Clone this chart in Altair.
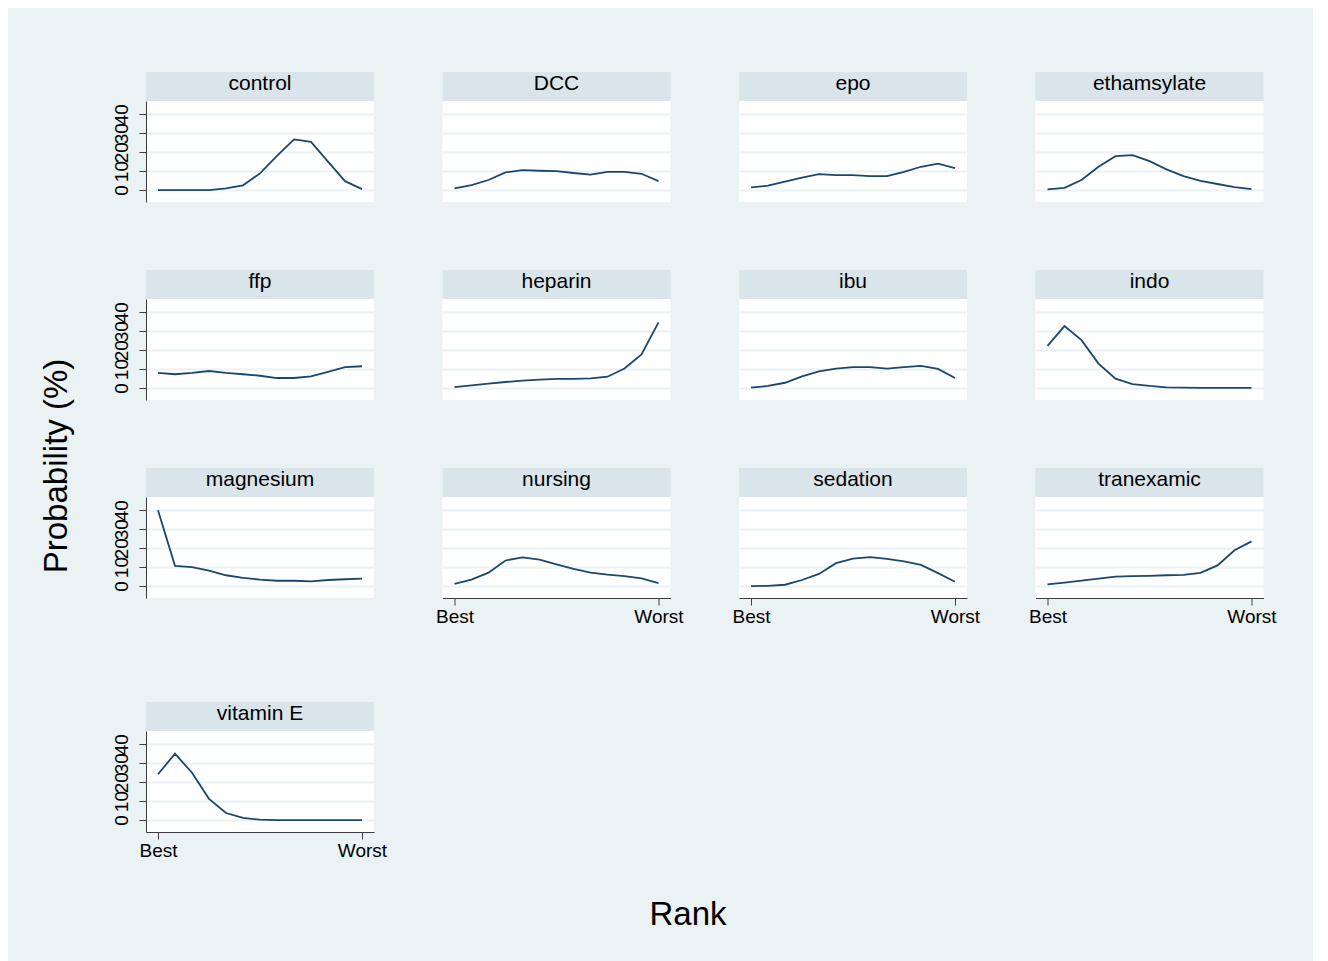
import altair as alt
import pandas as pd

FONT = "Liberation Sans"
BG = "#EAF2F3"
HDR = "#D9E5EB"
LINE = "#1A476F"
AXC = "#3C3C3C"

ranks = list(range(1, 14))
names = ["control", "DCC", "epo", "ethamsylate", "ffp", "heparin", "ibu", "indo",
         "magnesium", "nursing", "sedation", "tranexamic", "vitamin E"]

control = [0, 0, 0, 0, 0.9, 2.5, 8.8, 18.0, 26.7, 25.4, 15.0, 4.7, 0.5]
dcc = [0.9, 2.6, 5.3, 9.3, 10.5, 10.2, 10.0, 9.0, 8.2, 9.6, 9.6, 8.6, 4.7]
epo = [1.4, 2.3, 4.4, 6.5, 8.4, 7.9, 7.9, 7.4, 7.4, 9.6, 12.3, 13.9, 11.6]
ethamsylate = [0.4, 1.2, 5.3, 12.3, 17.9, 18.4, 15.3, 10.9, 7.4, 4.9, 3.2, 1.6, 0.5]
ffp = [8.0, 7.3, 8.0, 9.0, 8.0, 7.3, 6.5, 5.3, 5.3, 6.2, 8.5, 11.0, 11.5]
heparin = [0.5, 1.4, 2.3, 3.2, 3.9, 4.4, 4.8, 4.8, 5.1, 6.0, 10.3, 17.7, 34.7]
ibu = [0.2, 1.1, 2.8, 6.2, 8.8, 10.3, 11.0, 11.0, 10.3, 11.0, 11.7, 10.1, 5.3]
indo = [22.3, 32.7, 25.3, 12.9, 5.0, 2.1, 1.1, 0.4, 0.2, 0.1, 0.1, 0.1, 0.1]
magnesium = [40.0, 10.7, 10.0, 8.2, 5.7, 4.3, 3.4, 2.8, 2.8, 2.5, 3.2, 3.6, 3.9]
nursing = [1.1, 3.4, 7.1, 13.5, 15.1, 13.9, 11.5, 9.1, 7.1, 6.0, 5.2, 4.1, 1.6]
sedation = [0.0, 0.1, 0.7, 3.2, 6.4, 12.1, 14.5, 15.3, 14.3, 13.0, 11.2, 6.8, 2.3]
tranexamic = [0.9, 1.8, 2.9, 3.9, 5.0, 5.2, 5.4, 5.7, 5.9, 7.0, 10.9, 18.9, 23.6]
vitamin_e = [24.2, 35.0, 25.0, 11.2, 3.7, 1.1, 0.2, 0, 0, 0, 0, 0, 0]

series = [control, dcc, epo, ethamsylate, ffp, heparin, ibu, indo,
          magnesium, nursing, sedation, tranexamic, vitamin_e]

y_ticks = [0, 10, 20, 30, 40]
x_ticks = [1, 13]
x_labels = ["Best", "Worst"]

with_y = {"control", "ffp", "magnesium", "vitamin E"}
with_x = {"nursing", "sedation", "tranexamic", "vitamin E"}

W, H = 228, 101
HH = 29


def panel(name, vals):
    df = pd.DataFrame({"rank": ranks, "prob": vals})
    hdr = pd.DataFrame({"label": [name]})
    sy = name in with_y
    sx = name in with_x
    yaxis = alt.Axis(
        values=y_ticks, grid=True, gridColor=BG, gridWidth=2,
        tickSize=7, tickColor=AXC if sy else "transparent",
        domainColor=AXC if sy else "transparent",
        labelColor="black" if sy else "transparent",
        labelAngle=270, labelAlign="center", labelBaseline="bottom",
        labelFontSize=19, labelFont=FONT, labelPadding=8,
        labelOverlap=False, labelFlush=False, title=None,
    )
    xaxis = alt.Axis(
        values=x_ticks,
        labelExpr="datum.value == 1 ? '" + x_labels[0] + "' : '" + x_labels[1] + "'",
        grid=False, tickSize=7,
        tickColor=AXC if sx else "transparent",
        domainColor=AXC if sx else "transparent",
        labelColor="black" if sx else "transparent",
        labelFontSize=19, labelFont=FONT, labelPadding=2,
        labelFlush=False, labelOverlap=False, title=None,
    )
    line = alt.Chart(df).mark_line(color=LINE, strokeWidth=1.8).encode(
        x=alt.X("rank:Q", scale=alt.Scale(domain=[0.294, 13.706], nice=False, zero=False), axis=xaxis),
        y=alt.Y("prob:Q", scale=alt.Scale(domain=[-6.3, 47.0], nice=False, zero=False), axis=yaxis),
    )
    band = alt.Chart(hdr).mark_rect(color=HDR).encode(
        x=alt.value(0), x2=alt.value(W), y=alt.value(-HH), y2=alt.value(0)
    )
    txt = alt.Chart(hdr).mark_text(fontSize=21, font=FONT, color="black", baseline="middle").encode(
        x=alt.value(W / 2), y=alt.value(-17.5), text="label:N"
    )
    return alt.layer(band, line, txt).properties(
        width=W, height=H, view=alt.ViewBackground(fill="white", strokeWidth=0)
    )


panels = [panel(n, v) for n, v in zip(names, series)]

COLSP = 20.5
row1 = alt.hconcat(*panels[0:4], spacing=COLSP)
row2 = alt.hconcat(*panels[4:8], spacing=COLSP)
row3 = alt.hconcat(*panels[8:12], spacing=COLSP)
row4 = alt.hconcat(panels[12], spacing=COLSP)

top = alt.vconcat(row1, row2, row3, spacing=40)
grid = alt.vconcat(top, row4, spacing=76)

ytitle = alt.Chart(pd.DataFrame({"t": ["Probability (%)"]})).mark_text(
    angle=270, fontSize=33, font=FONT, color="black", baseline="middle", align="center"
).encode(x=alt.value(20), y=alt.value(365), text="t:N").properties(
    width=42, height=780, view=alt.ViewBackground(strokeWidth=0)
)

xtitle = alt.Chart(pd.DataFrame({"t": ["Rank"]})).mark_text(
    fontSize=33, font=FONT, color="black", baseline="middle", align="center"
).encode(x=alt.value(651), y=alt.value(34), text="t:N").properties(
    width=1200, height=70, view=alt.ViewBackground(strokeWidth=0)
)

chart = alt.vconcat(
    alt.hconcat(ytitle, grid, spacing=32),
    xtitle,
    spacing=0,
).properties(
    background=BG,
    padding={"left": 29, "top": 64, "right": 36, "bottom": 25},
).configure_view(strokeWidth=0)

chart.save("out.html", embed_options={"renderer": "svg", "actions": False})
